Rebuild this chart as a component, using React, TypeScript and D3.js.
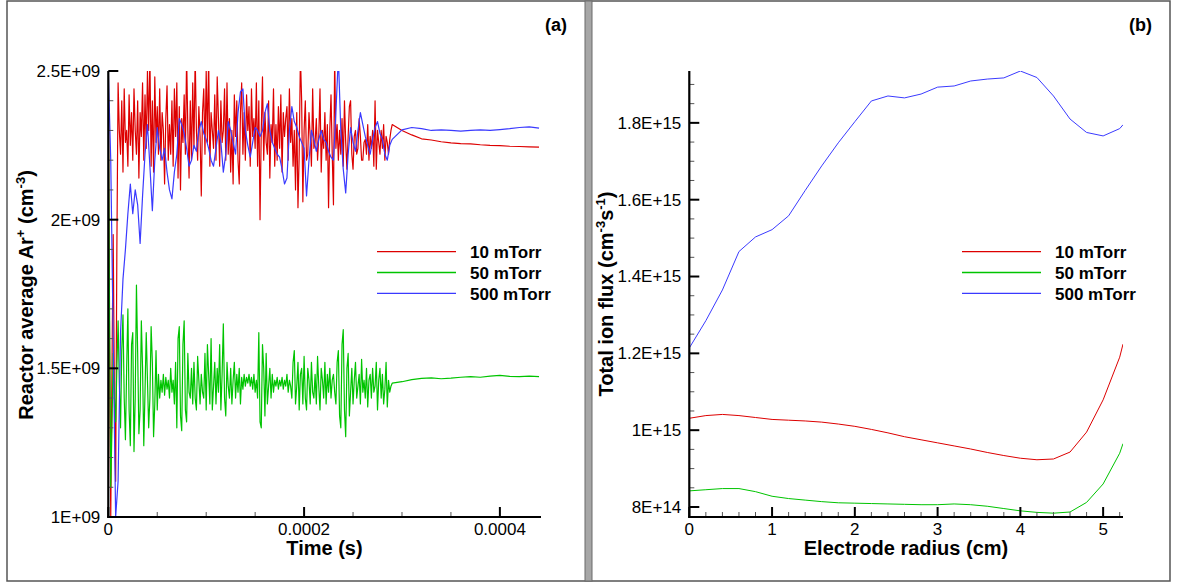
import React from 'react';
import * as d3 from 'd3';

// ---------- Panel (a): reactor average Ar+ density vs time (units of 1E9 cm^-3) ----------
const fineStep = 1.25e-6; // s, sampling of the 10 / 50 mTorr oscillating phase (t = 0 ... 0.00029 s)
const coarseStep = 2.5e-6; // s, sampling of the 500 mTorr oscillating phase
const settledTimes = [0.0003, 0.00031, 0.00032, 0.00033, 0.00034, 0.00035, 0.00036, 0.00037, 0.00038, 0.00039, 0.0004, 0.00041, 0.00042, 0.00043, 0.00044];

const red10Noisy = [
  2.45, 1.6, 1.0, 1.5, 1.95, 1.4, 1.12, 1.9, 2.46, 2.3,
  2.22, 2.4, 2.16, 2.44, 2.26, 2.3, 2.18, 2.42, 2.25, 2.36,
  2.2, 2.44, 2.3, 2.22, 2.4, 2.14, 2.36, 2.28, 2.46, 2.2,
  2.42, 2.24, 2.5, 2.3, 2.55, 2.18, 2.4, 2.16, 2.48, 2.26,
  2.38, 2.22, 2.44, 2.2, 2.36, 2.3, 2.12, 2.34, 2.45, 2.2,
  2.32, 2.22, 2.4, 2.18, 2.44, 2.28, 2.46, 2.14, 2.38, 2.1,
  2.34, 2.26, 2.42, 2.22, 2.55, 2.3, 2.14, 2.4, 2.2, 2.46,
  2.24, 2.55, 2.3, 2.2, 2.38, 2.28, 2.08, 2.36, 2.44, 2.22,
  2.5, 2.26, 2.55, 2.18, 2.36, 2.3, 2.24, 2.42, 2.2, 2.48,
  2.34, 2.18, 2.4, 2.26, 2.3, 2.44, 2.2, 2.46, 2.22, 2.34,
  2.16, 2.3, 2.12, 2.42, 2.28, 2.4, 2.2, 2.12, 2.36, 2.46,
  2.22, 2.36, 2.2, 2.42, 2.3, 2.38, 2.18, 2.44, 2.28, 2.34,
  2.24, 2.46, 2.18, 2.4, 2.0, 2.3, 2.48, 2.2, 2.36, 2.26,
  2.22, 2.4, 2.14, 2.32, 2.26, 2.44, 2.18, 2.32, 2.2, 2.38,
  2.24, 2.42, 2.16, 2.36, 2.28, 2.34, 2.38, 2.2, 2.44, 2.26,
  2.34, 2.18, 2.3, 2.1, 2.36, 2.04, 2.22, 2.55, 2.4, 2.06,
  2.3, 2.4, 2.2, 2.22, 2.36, 2.28, 2.18, 2.44, 2.24, 2.26,
  2.34, 2.2, 2.28, 2.44, 2.16, 2.3, 2.24, 2.36, 2.2, 2.32,
  2.04, 2.3, 2.42, 2.22, 2.05, 2.55, 2.24, 2.32, 2.2, 2.3,
  2.22, 2.34, 2.18, 2.4, 2.26, 2.17, 2.28, 2.38, 2.4, 2.22,
  2.17, 2.28, 2.3, 2.22, 2.24, 2.34, 2.28, 2.2, 2.2, 2.26,
  2.27, 2.22, 2.32, 2.2, 2.28, 2.24, 2.3, 2.18, 2.4, 2.17,
  2.3, 2.26, 2.22, 2.3, 2.24, 2.32, 2.2, 2.28, 2.26, 2.22,
  2.27, 2.3, 2.32,
];
const red10Settled = [2.3, 2.285, 2.272, 2.268, 2.262, 2.258, 2.256, 2.255, 2.252, 2.25, 2.249, 2.247, 2.246, 2.245, 2.244];

const green50Noisy = [
  2.35, 1.7, 1.1, 1.3, 1.55, 1.4, 1.32, 1.5, 1.66, 1.45,
  1.3, 1.56, 1.68, 1.4, 1.26, 1.5, 1.7, 1.36, 1.24, 1.58,
  1.62, 1.22, 1.4, 1.78, 1.55, 1.28, 1.36, 1.66, 1.5, 1.24,
  1.42, 1.62, 1.46, 1.3, 1.4, 1.64, 1.52, 1.27, 1.38, 1.56,
  1.36, 1.48, 1.4, 1.46, 1.42, 1.48, 1.41, 1.47, 1.43, 1.46,
  1.4, 1.5, 1.42, 1.46, 1.38, 1.52, 1.3, 1.6, 1.64, 1.34,
  1.29, 1.58, 1.66, 1.36, 1.32, 1.55, 1.42, 1.4, 1.5, 1.38,
  1.52, 1.4, 1.36, 1.54, 1.46, 1.38, 1.48, 1.42, 1.4, 1.55,
  1.36, 1.58, 1.48, 1.38, 1.6, 1.36, 1.44, 1.52, 1.38, 1.5,
  1.42, 1.58, 1.36, 1.48, 1.65, 1.4, 1.34, 1.52, 1.44, 1.4,
  1.5, 1.38, 1.46, 1.52, 1.4, 1.48, 1.42, 1.5, 1.38, 1.47,
  1.43, 1.48, 1.44, 1.47, 1.45, 1.48, 1.44, 1.47, 1.43, 1.48,
  1.42, 1.46, 1.4, 1.62, 1.32, 1.3, 1.58, 1.5, 1.34, 1.55,
  1.38, 1.44, 1.5, 1.4, 1.48, 1.42, 1.46, 1.44, 1.47, 1.43,
  1.46, 1.44, 1.47, 1.43, 1.46, 1.44, 1.48, 1.42, 1.46, 1.44,
  1.4, 1.52, 1.56, 1.38, 1.44, 1.52, 1.36, 1.48, 1.5, 1.38,
  1.54, 1.4, 1.36, 1.5, 1.46, 1.38, 1.52, 1.42, 1.4, 1.48,
  1.38, 1.54, 1.44, 1.36, 1.5, 1.46, 1.4, 1.52, 1.38, 1.48,
  1.42, 1.5, 1.4, 1.46, 1.48, 1.42, 1.38, 1.52, 1.56, 1.34,
  1.3, 1.58, 1.63, 1.36, 1.27, 1.5, 1.55, 1.34, 1.42, 1.5,
  1.38, 1.46, 1.52, 1.4, 1.44, 1.48, 1.38, 1.53, 1.42, 1.46,
  1.4, 1.5, 1.37, 1.46, 1.48, 1.4, 1.5, 1.42, 1.44, 1.52,
  1.36, 1.46, 1.5, 1.4, 1.48, 1.38, 1.43, 1.52, 1.37, 1.46,
  1.42, 1.44, 1.45,
];
const green50Settled = [1.455, 1.462, 1.466, 1.468, 1.465, 1.467, 1.47, 1.472, 1.47, 1.474, 1.476, 1.473, 1.472, 1.474, 1.472];

const blue500Noisy = [
  2.5, 2.2, 1.6, 1.0, 1.12, 1.62, 1.8, 1.9, 2.02, 2.12,
  2.02, 2.1, 2.05, 1.92, 2.08, 2.22, 2.32, 2.18, 2.03, 2.2,
  2.31, 2.24, 2.2, 2.24, 2.16, 2.1, 2.07, 2.16, 2.22, 2.34,
  2.32, 2.29, 2.24, 2.18, 2.2, 2.25, 2.23, 2.3, 2.33, 2.29,
  2.27, 2.24, 2.2, 2.18, 2.24, 2.3, 2.26, 2.16, 2.22, 2.33,
  2.3, 2.26, 2.22, 2.36, 2.43, 2.44, 2.3, 2.25, 2.21, 2.26,
  2.31, 2.3, 2.28, 2.3, 2.36, 2.39, 2.3, 2.26, 2.24, 2.22,
  2.21, 2.17, 2.12, 2.14, 2.3, 2.38, 2.33, 2.31, 2.28, 2.26,
  2.24, 2.08, 2.2, 2.3, 2.27, 2.23, 2.27, 2.3, 2.27, 2.26,
  2.23, 2.21, 2.2, 2.36, 2.55, 2.3, 2.17, 2.09, 2.22, 2.31,
  2.26, 2.23, 2.3, 2.36, 2.32, 2.28, 2.25, 2.22, 2.27, 2.31,
  2.33, 2.29, 2.27, 2.22, 2.2, 2.25, 2.27,
];
const blue500Settled = [2.302, 2.31, 2.306, 2.3, 2.302, 2.3, 2.298, 2.3, 2.302, 2.3, 2.303, 2.306, 2.31, 2.312, 2.308];

const timeTicksMajor = [0, 0.0002, 0.0004];
const timeTickLabels = ['0', '0.0002', '0.0004'];
const densityTicksMajor = [1, 1.5, 2, 2.5];
const densityTickLabels = ['1E+09', '1.5E+09', '2E+09', '2.5E+09'];

// ---------- Panel (b): total ion flux vs electrode radius (units of 1E15) ----------
const radii = [0, 0.2, 0.4, 0.6, 0.8, 1.0, 1.2, 1.4, 1.6, 1.8, 2.0, 2.2, 2.4, 2.6, 2.8, 3.0, 3.2, 3.4, 3.6, 3.8, 4.0, 4.2, 4.4, 4.6, 4.8, 5.0, 5.2, 5.24];
const flux10 = [1.031, 1.038, 1.041, 1.038, 1.033, 1.028, 1.026, 1.024, 1.021, 1.016, 1.01, 1.002, 0.993, 0.983, 0.975, 0.967, 0.959, 0.951, 0.942, 0.934, 0.927, 0.923, 0.925, 0.943, 0.995, 1.079, 1.19, 1.224];
const flux50 = [0.842, 0.845, 0.848, 0.848, 0.84, 0.828, 0.822, 0.818, 0.814, 0.811, 0.81, 0.809, 0.808, 0.807, 0.806, 0.806, 0.808, 0.806, 0.802, 0.796, 0.79, 0.786, 0.784, 0.787, 0.812, 0.86, 0.94, 0.965];
const flux500 = [1.214, 1.285, 1.365, 1.465, 1.503, 1.522, 1.558, 1.624, 1.688, 1.748, 1.803, 1.857, 1.87, 1.865, 1.875, 1.893, 1.896, 1.909, 1.914, 1.917, 1.935, 1.918, 1.87, 1.81, 1.775, 1.766, 1.785, 1.795];

const radiusTicksMajor = [0, 1, 2, 3, 4, 5];
const radiusTickLabels = ['0', '1', '2', '3', '4', '5'];
const fluxTicksMajor = [0.8, 1.0, 1.2, 1.4, 1.6, 1.8];
const fluxTickLabels = ['8E+14', '1E+15', '1.2E+15', '1.4E+15', '1.6E+15', '1.8E+15'];

const seriesNames = ['10 mTorr', '50 mTorr', '500 mTorr'];
const seriesColors = ['#dd0000', '#00c400', '#3a3aff'];

const FONT = 'Liberation Sans, Arial, Helvetica, sans-serif';

type Pt = { x: number; y: number };

function timeSeries(noisy: number[], step: number, settled: number[]): Pt[] {
  return [
    ...noisy.map((v, i) => ({ x: i * step, y: v })),
    ...settled.map((v, i) => ({ x: settledTimes[i], y: v })),
  ];
}

function Axes(props: {
  x: d3.ScaleLinear<number, number>;
  y: d3.ScaleLinear<number, number>;
  xMajor: number[];
  xLabels: string[];
  xMinor: number[];
  yMajor: number[];
  yLabels: string[];
  yMinor: number[];
}) {
  const { x, y, xMajor, xLabels, xMinor, yMajor, yLabels, yMinor } = props;
  const [x0, x1] = x.range();
  const [y0, y1] = y.range();
  return (
    <g fontFamily={FONT}>
      {xMinor.map((t, i) => (
        <line key={'xm' + i} x1={x(t)} x2={x(t)} y1={y0} y2={y0 - 5} stroke="#555" strokeWidth={1} />
      ))}
      {yMinor.map((t, i) => (
        <line key={'ym' + i} x1={x0} x2={x0 + 5} y1={y(t)} y2={y(t)} stroke="#555" strokeWidth={1} />
      ))}
      {xMajor.map((t, i) => (
        <g key={'xM' + i}>
          <line x1={x(t)} x2={x(t)} y1={y0} y2={y0 - 10} stroke="#000" strokeWidth={2} />
          <text x={x(t)} y={y0 + 18} textAnchor="middle" fontSize={17} fill="#000">
            {xLabels[i]}
          </text>
        </g>
      ))}
      {yMajor.map((t, i) => (
        <g key={'yM' + i}>
          <line x1={x0} x2={x0 + 10} y1={y(t)} y2={y(t)} stroke="#000" strokeWidth={2} />
          <text x={x0 - 8} y={y(t)} dy="0.35em" textAnchor="end" fontSize={17} fill="#000">
            {yLabels[i]}
          </text>
        </g>
      ))}
      <line x1={x0 - 1} x2={x1} y1={y0} y2={y0} stroke="#000" strokeWidth={2.2} />
      <line x1={x0} x2={x0} y1={y0 + 1} y2={y1} stroke="#000" strokeWidth={2.2} />
    </g>
  );
}

function Legend(props: { x: number; y: number }) {
  const { x, y } = props;
  return (
    <g fontFamily={FONT}>
      {seriesNames.map((name, i) => (
        <g key={name}>
          <line x1={x} x2={x + 79} y1={y + i * 20.8} y2={y + i * 20.8} stroke={seriesColors[i]} strokeWidth={1.3} />
          <text x={x + 93} y={y + i * 20.8 + 6.5} fontSize={17} fontWeight="bold" fill="#000">
            {name}
          </text>
        </g>
      ))}
    </g>
  );
}

export default function App() {
  const xA = d3.scaleLinear().domain([0, 0.000442]).range([108.3, 541]);
  const yA = d3.scaleLinear().domain([1, 2.5]).range([517, 71]);
  const xB = d3.scaleLinear().domain([0, 5.24]).range([689.3, 1123]);
  const yB = d3.scaleLinear().domain([0.774, 1.935]).range([517, 71]);

  const lineA = d3.line<Pt>().x((d) => xA(d.x)).y((d) => yA(d.y));
  const lineB = d3.line<Pt>().x((d) => xB(d.x)).y((d) => yB(d.y));

  const seriesA = [
    timeSeries(red10Noisy, fineStep, red10Settled),
    timeSeries(green50Noisy, fineStep, green50Settled),
    timeSeries(blue500Noisy, coarseStep, blue500Settled),
  ];
  const seriesB = [flux10, flux50, flux500].map((arr) => arr.map((v, i) => ({ x: radii[i], y: v })));

  const timeMinor = d3.range(0, 0.00044, 0.00005).filter((t) => !timeTicksMajor.some((m) => Math.abs(m - t) < 1e-9));
  const densityMinor = d3.range(1, 2.5001, 0.1).filter((t) => !densityTicksMajor.some((m) => Math.abs(m - t) < 1e-6));
  const radiusMinor = d3.range(0, 5.21, 0.2).filter((t) => !radiusTicksMajor.some((m) => Math.abs(m - t) < 1e-6));
  const fluxMinor = d3.range(0.8, 1.93, 0.05).filter((t) => !fluxTicksMajor.some((m) => Math.abs(m - t) < 1e-6));

  return (
    <svg width={1184} height={583} style={{ position: 'absolute', left: 0, top: 0, background: '#fff' }}>
      <defs>
        <clipPath id="clipA">
          <rect x={108.3} y={71} width={541 - 108.3} height={446} />
        </clipPath>
        <clipPath id="clipB">
          <rect x={689.3} y={71} width={1123 - 689.3} height={446} />
        </clipPath>
      </defs>
      <rect x={0} y={0} width={1184} height={583} fill="#fff" />

      {/* frame */}
      <rect x={7} y={1} width={1163} height={580} fill="none" stroke="#555" strokeWidth={1.5} />
      <rect x={585} y={1} width={7} height={580} fill="#a6a6a6" stroke="#6a6a6a" strokeWidth={1} />

      {/* panel (a) */}
      <g clipPath="url(#clipA)">
        {seriesA.map((s, i) => (
          <path key={i} d={lineA(s) || ''} fill="none" stroke={seriesColors[i]} strokeWidth={1.2} strokeLinejoin="round" />
        ))}
      </g>
      <Axes
        x={xA}
        y={yA}
        xMajor={timeTicksMajor}
        xLabels={timeTickLabels}
        xMinor={timeMinor}
        yMajor={densityTicksMajor}
        yLabels={densityTickLabels}
        yMinor={densityMinor}
      />
      <Legend x={377} y={251.7} />
      <text x={324.5} y={555} textAnchor="middle" fontFamily={FONT} fontSize={20} fontWeight="bold">
        Time (s)
      </text>
      <text transform="translate(33,295) rotate(-90)" textAnchor="middle" fontFamily={FONT} fontSize={20} fontWeight="bold">
        Reactor average Ar
        <tspan fontSize={13} dy={-8}>+</tspan>
        <tspan dy={8}> (cm</tspan>
        <tspan fontSize={13} dy={-8}>-3</tspan>
        <tspan dy={8}>)</tspan>
      </text>
      <text x={567} y={31} textAnchor="end" fontFamily={FONT} fontSize={18} fontWeight="bold">
        (a)
      </text>

      {/* panel (b) */}
      <g clipPath="url(#clipB)">
        {seriesB.map((s, i) => (
          <path key={i} d={lineB(s) || ''} fill="none" stroke={seriesColors[i]} strokeWidth={1} strokeLinejoin="round" />
        ))}
      </g>
      <Axes
        x={xB}
        y={yB}
        xMajor={radiusTicksMajor}
        xLabels={radiusTickLabels}
        xMinor={radiusMinor}
        yMajor={fluxTicksMajor}
        yLabels={fluxTickLabels}
        yMinor={fluxMinor}
      />
      <Legend x={962} y={251.7} />
      <text x={906} y={555} textAnchor="middle" fontFamily={FONT} fontSize={20} fontWeight="bold">
        Electrode radius (cm)
      </text>
      <text transform="translate(613,294) rotate(-90)" textAnchor="middle" fontFamily={FONT} fontSize={20} fontWeight="bold">
        Total ion flux (cm
        <tspan fontSize={13} dy={-8}>-3</tspan>
        <tspan dy={8}>s</tspan>
        <tspan fontSize={13} dy={-8}>-1</tspan>
        <tspan dy={8}>)</tspan>
      </text>
      <text x={1152} y={31} textAnchor="end" fontFamily={FONT} fontSize={18} fontWeight="bold">
        (b)
      </text>
    </svg>
  );
}
